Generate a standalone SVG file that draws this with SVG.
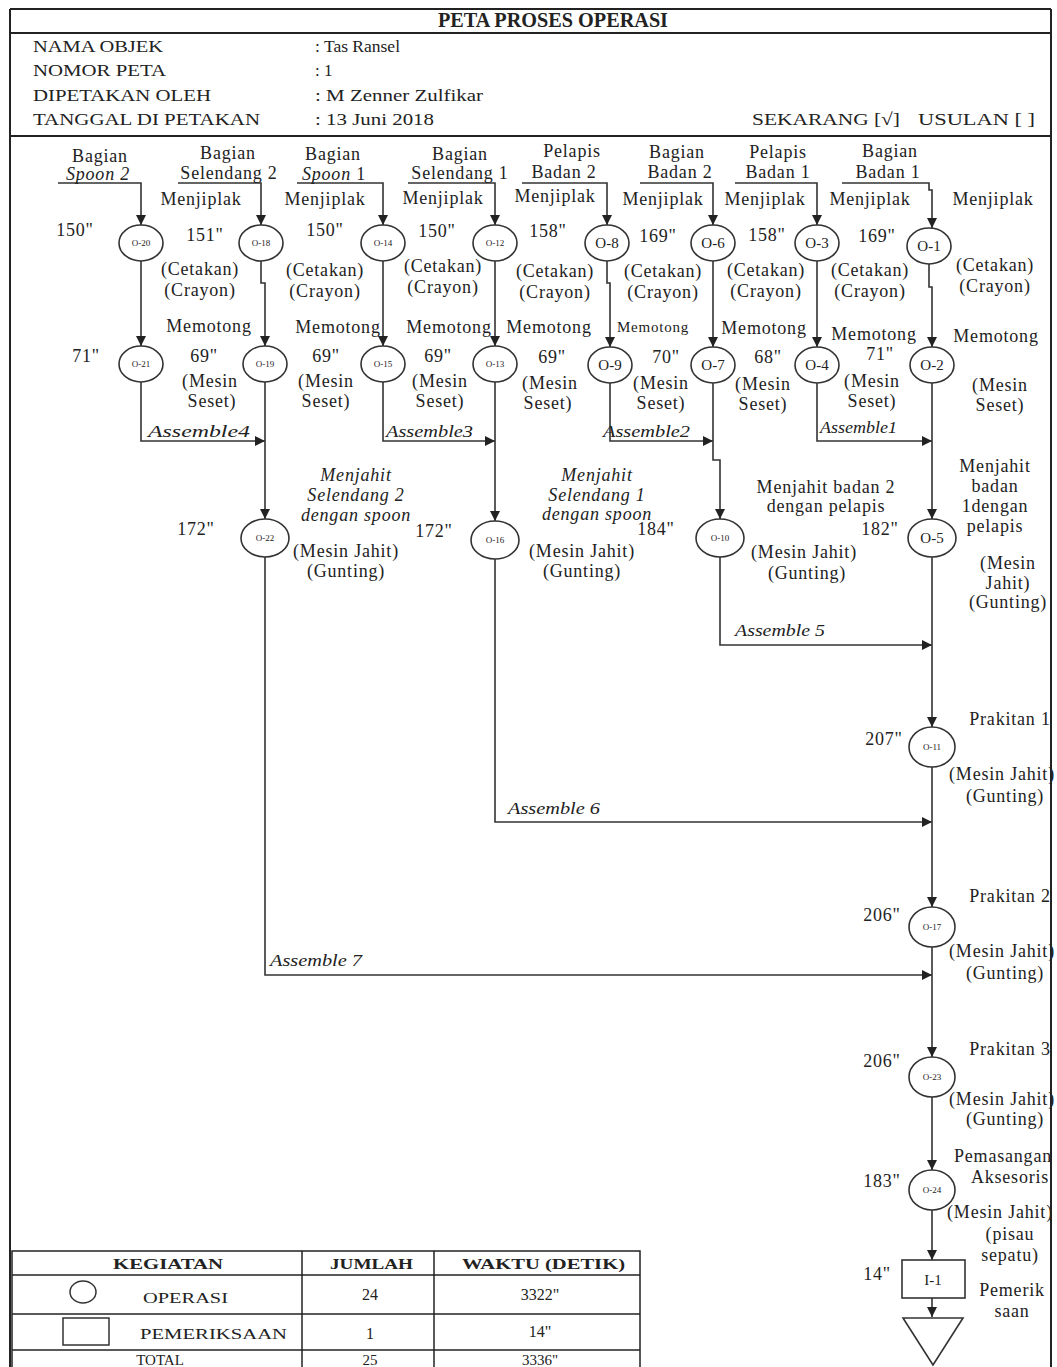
<svg xmlns="http://www.w3.org/2000/svg" width="1057" height="1367" viewBox="0 0 1057 1367">
<defs>
<marker id="ah" viewBox="0 0 10 10" refX="10" refY="5" markerWidth="10" markerHeight="10" markerUnits="userSpaceOnUse" orient="auto"><path d="M0,0 L10,5 L0,10 z" fill="#222"/></marker>
<style>
text{font-family:"Liberation Serif","Times New Roman",serif;fill:#222;font-size:18px;letter-spacing:0.8px}
.m{text-anchor:middle}
.it{font-style:italic}
.h{font-size:17px;letter-spacing:0}
.t{font-size:20px;font-weight:bold;letter-spacing:0}
.nl{font-size:9px;letter-spacing:0;text-anchor:middle}
.nb{font-size:15px;letter-spacing:0;text-anchor:middle}
.tb{font-size:15px;letter-spacing:0}
.tn{font-size:16px;letter-spacing:0;text-anchor:middle}
.as{font-size:16px;font-style:italic;letter-spacing:0}
.node ellipse,.node rect,.node polygon{fill:#fff;stroke:#333;stroke-width:1.6}
.ca{fill:none;stroke:#333;stroke-width:1.6;marker-end:url(#ah)}
.fr{fill:none;stroke:#222;stroke-width:2}
.tl{stroke:#222;stroke-width:1.5}
</style>
</defs>
<rect width="1057" height="1367" fill="#fff"/>
<g id="frame">
<line class="fr" x1="10" y1="9" x2="1051" y2="9"/>
<line class="fr" x1="10" y1="9" x2="10" y2="1367"/>
<line class="fr" x1="1051" y1="9" x2="1051" y2="1367"/>
<line class="fr" x1="10" y1="33" x2="1051" y2="33"/>
<line class="fr" x1="10" y1="136" x2="1051" y2="136" stroke-width="2.5"/>
</g>
<g id="header">
<text class="t m" x="553" y="27" textLength="230" lengthAdjust="spacingAndGlyphs">PETA PROSES OPERASI</text>
<text class="h" x="33" y="52" textLength="130" lengthAdjust="spacingAndGlyphs">NAMA OBJEK</text>
<text class="h" x="315" y="52" textLength="85" lengthAdjust="spacingAndGlyphs">: Tas Ransel</text>
<text class="h" x="33" y="76" textLength="133" lengthAdjust="spacingAndGlyphs">NOMOR PETA</text>
<text class="h" x="315" y="76">: 1</text>
<text class="h" x="33" y="101" textLength="178" lengthAdjust="spacingAndGlyphs">DIPETAKAN OLEH</text>
<text class="h" x="315" y="101" textLength="168" lengthAdjust="spacingAndGlyphs">: M Zenner Zulfikar</text>
<text class="h" x="33" y="125" textLength="227" lengthAdjust="spacingAndGlyphs">TANGGAL DI PETAKAN</text>
<text class="h" x="315" y="125" textLength="119" lengthAdjust="spacingAndGlyphs">: 13 Juni 2018</text>
<text class="h" x="752" y="125" textLength="148" lengthAdjust="spacingAndGlyphs">SEKARANG [√]</text>
<text class="h" x="918" y="125" textLength="117" lengthAdjust="spacingAndGlyphs">USULAN [   ]</text>
</g>
<g id="connectors">
<path class="ca" d="M58,183 H141 V225"/>
<path class="ca" d="M178,183 H261 V225"/>
<path class="ca" d="M297,183 H383 V225"/>
<path class="ca" d="M408,183 H495 V225"/>
<path class="ca" d="M522,183 H607 V225"/>
<path class="ca" d="M640,183 H713 V225"/>
<path class="ca" d="M735,183 H817 V225"/>
<path class="ca" d="M842,183 H929 V190 H932 V228"/>
<path class="ca" d="M141,261 V346"/>
<path class="ca" d="M261,261 V283 H265 V346"/>
<path class="ca" d="M383,261 V346"/>
<path class="ca" d="M495,261 V346"/>
<path class="ca" d="M607,261 V283 H610 V347"/>
<path class="ca" d="M713,261 V347"/>
<path class="ca" d="M817,261 V347"/>
<path class="ca" d="M929,264 V287 H932 V347"/>
<path class="ca" d="M141,382 V441 H265"/>
<path class="ca" d="M383,382 V441 H495"/>
<path class="ca" d="M610,383 V441 H713"/>
<path class="ca" d="M817,383 V441 H932"/>
<path class="ca" d="M265,382 V519"/>
<path class="ca" d="M495,382 V521"/>
<path class="ca" d="M713,383 V460 H720 V519"/>
<path class="ca" d="M932,383 V519"/>
<path class="ca" d="M720,557 V645 H932"/>
<path class="ca" d="M495,559 V822 H932"/>
<path class="ca" d="M265,557 V975 H932"/>
<path class="ca" d="M932,557 V727"/>
<path class="ca" d="M932,767 V907"/>
<path class="ca" d="M932,947 V1057"/>
<path class="ca" d="M932,1097 V1170"/>
<path class="ca" d="M932,1210 V1260"/>
<path class="ca" d="M932,1298 V1317"/>
</g>
<g id="O-20" class="node"><ellipse cx="141" cy="243" rx="22" ry="18"/><text class="nl" x="141" y="246">O-20</text></g>
<g id="O-18" class="node"><ellipse cx="261" cy="243" rx="22" ry="18"/><text class="nl" x="261" y="246">O-18</text></g>
<g id="O-14" class="node"><ellipse cx="383" cy="243" rx="22" ry="18"/><text class="nl" x="383" y="246">O-14</text></g>
<g id="O-12" class="node"><ellipse cx="495" cy="243" rx="22" ry="18"/><text class="nl" x="495" y="246">O-12</text></g>
<g id="O-8" class="node"><ellipse cx="607" cy="243" rx="22" ry="18"/><text class="nb" x="607" y="248">O-8</text></g>
<g id="O-6" class="node"><ellipse cx="713" cy="243" rx="22" ry="18"/><text class="nb" x="713" y="248">O-6</text></g>
<g id="O-3" class="node"><ellipse cx="817" cy="243" rx="22" ry="18"/><text class="nb" x="817" y="248">O-3</text></g>
<g id="O-1" class="node"><ellipse cx="929" cy="246" rx="22" ry="18"/><text class="nb" x="929" y="251">O-1</text></g>
<g id="O-21" class="node"><ellipse cx="141" cy="364" rx="22" ry="18"/><text class="nl" x="141" y="367">O-21</text></g>
<g id="O-19" class="node"><ellipse cx="265" cy="364" rx="22" ry="18"/><text class="nl" x="265" y="367">O-19</text></g>
<g id="O-15" class="node"><ellipse cx="383" cy="364" rx="22" ry="18"/><text class="nl" x="383" y="367">O-15</text></g>
<g id="O-13" class="node"><ellipse cx="495" cy="364" rx="22" ry="18"/><text class="nl" x="495" y="367">O-13</text></g>
<g id="O-9" class="node"><ellipse cx="610" cy="365" rx="22" ry="18"/><text class="nb" x="610" y="370">O-9</text></g>
<g id="O-7" class="node"><ellipse cx="713" cy="365" rx="22" ry="18"/><text class="nb" x="713" y="370">O-7</text></g>
<g id="O-4" class="node"><ellipse cx="817" cy="365" rx="22" ry="18"/><text class="nb" x="817" y="370">O-4</text></g>
<g id="O-2" class="node"><ellipse cx="932" cy="365" rx="22" ry="18"/><text class="nb" x="932" y="370">O-2</text></g>
<g id="O-22" class="node"><ellipse cx="265" cy="538" rx="24" ry="19"/><text class="nl" x="265" y="541">O-22</text></g>
<g id="O-16" class="node"><ellipse cx="495" cy="540" rx="24" ry="19"/><text class="nl" x="495" y="543">O-16</text></g>
<g id="O-10" class="node"><ellipse cx="720" cy="538" rx="24" ry="19"/><text class="nl" x="720" y="541">O-10</text></g>
<g id="O-5" class="node"><ellipse cx="932" cy="538" rx="24" ry="19"/><text class="nb" x="932" y="543">O-5</text></g>
<g id="O-11" class="node"><ellipse cx="932" cy="747" rx="23" ry="20"/><text class="nl" x="932" y="750">O-11</text></g>
<g id="O-17" class="node"><ellipse cx="932" cy="927" rx="23" ry="20"/><text class="nl" x="932" y="930">O-17</text></g>
<g id="O-23" class="node"><ellipse cx="932" cy="1077" rx="23" ry="20"/><text class="nl" x="932" y="1080">O-23</text></g>
<g id="O-24" class="node"><ellipse cx="932" cy="1190" rx="23" ry="20"/><text class="nl" x="932" y="1193">O-24</text></g>
<g id="I-1" class="node"><rect x="902" y="1260" width="63" height="38"/><text class="nb" x="933" y="1285">I-1</text></g>
<g id="storage" class="node"><polygon points="903,1318 963,1318 933,1365"/></g>
<g id="labels">
<text class="m" x="100" y="162">Bagian</text>
<text class="m it" x="98" y="180">Spoon 2</text>
<text class="m" x="228" y="159">Bagian</text>
<text class="m" x="229" y="179">Selendang 2</text>
<text class="m" x="333" y="160">Bagian</text>
<text class="m" x="334" y="180"><tspan class="it">Spoon</tspan> 1</text>
<text class="m" x="460" y="160">Bagian</text>
<text class="m" x="460" y="179">Selendang 1</text>
<text class="m" x="572" y="157">Pelapis</text>
<text class="m" x="564" y="178">Badan 2</text>
<text class="m" x="677" y="158">Bagian</text>
<text class="m" x="680" y="178">Badan 2</text>
<text class="m" x="778" y="158">Pelapis</text>
<text class="m" x="778" y="178">Badan 1</text>
<text class="m" x="890" y="157">Bagian</text>
<text class="m" x="888" y="178">Badan 1</text>

<text class="m" x="201" y="205">Menjiplak</text>
<text class="m" x="325" y="205">Menjiplak</text>
<text class="m" x="443" y="204">Menjiplak</text>
<text class="m" x="555" y="202">Menjiplak</text>
<text class="m" x="663" y="205">Menjiplak</text>
<text class="m" x="765" y="205">Menjiplak</text>
<text class="m" x="870" y="205">Menjiplak</text>
<text class="m" x="993" y="205">Menjiplak</text>

<text class="m" x="75" y="236">150"</text>
<text class="m" x="205" y="241">151"</text>
<text class="m" x="325" y="236">150"</text>
<text class="m" x="437" y="237">150"</text>
<text class="m" x="548" y="237">158"</text>
<text class="m" x="658" y="242">169"</text>
<text class="m" x="767" y="241">158"</text>
<text class="m" x="877" y="242">169"</text>

<text class="m" x="200" y="275">(Cetakan)</text><text class="m" x="200" y="296">(Crayon)</text>
<text class="m" x="325" y="276">(Cetakan)</text><text class="m" x="325" y="297">(Crayon)</text>
<text class="m" x="443" y="272">(Cetakan)</text><text class="m" x="443" y="293">(Crayon)</text>
<text class="m" x="555" y="277">(Cetakan)</text><text class="m" x="555" y="298">(Crayon)</text>
<text class="m" x="663" y="277">(Cetakan)</text><text class="m" x="663" y="298">(Crayon)</text>
<text class="m" x="766" y="276">(Cetakan)</text><text class="m" x="766" y="297">(Crayon)</text>
<text class="m" x="870" y="276">(Cetakan)</text><text class="m" x="870" y="297">(Crayon)</text>
<text class="m" x="995" y="271">(Cetakan)</text><text class="m" x="995" y="292">(Crayon)</text>

<text class="m" x="209" y="332">Memotong</text>
<text class="m" x="338" y="333">Memotong</text>
<text class="m" x="449" y="333">Memotong</text>
<text class="m" x="549" y="333">Memotong</text>
<text class="m" x="653" y="332" style="font-size:15px">Memotong</text>
<text class="m" x="764" y="334">Memotong</text>
<text class="m" x="874" y="340">Memotong</text>
<text class="m" x="996" y="342">Memotong</text>

<text class="m" x="86" y="362">71"</text>
<text class="m" x="204" y="362">69"</text>
<text class="m" x="326" y="362">69"</text>
<text class="m" x="438" y="362">69"</text>
<text class="m" x="552" y="363">69"</text>
<text class="m" x="666" y="363">70"</text>
<text class="m" x="768" y="363">68"</text>
<text class="m" x="880" y="360">71"</text>

<text class="m" x="210" y="387">(Mesin</text><text class="m" x="212" y="407">Seset)</text>
<text class="m" x="326" y="387">(Mesin</text><text class="m" x="326" y="407">Seset)</text>
<text class="m" x="440" y="387">(Mesin</text><text class="m" x="440" y="407">Seset)</text>
<text class="m" x="550" y="389">(Mesin</text><text class="m" x="548" y="409">Seset)</text>
<text class="m" x="661" y="389">(Mesin</text><text class="m" x="661" y="409">Seset)</text>
<text class="m" x="763" y="390">(Mesin</text><text class="m" x="763" y="410">Seset)</text>
<text class="m" x="872" y="387">(Mesin</text><text class="m" x="872" y="407">Seset)</text>
<text class="m" x="1000" y="391">(Mesin</text><text class="m" x="1000" y="411">Seset)</text>

<text class="as" x="148" y="437" textLength="102" lengthAdjust="spacingAndGlyphs">Assemble4</text>
<text class="as" x="386" y="437" textLength="87" lengthAdjust="spacingAndGlyphs">Assemble3</text>
<text class="as" x="603" y="437" textLength="87" lengthAdjust="spacingAndGlyphs">Assemble2</text>
<text class="as" x="820" y="433" textLength="77" lengthAdjust="spacingAndGlyphs">Assemble1</text>

<text class="m it" x="356" y="481">Menjahit</text>
<text class="m it" x="356" y="501">Selendang 2</text>
<text class="m it" x="356" y="521">dengan spoon</text>
<text class="m" x="196" y="535">172"</text>
<text class="m" x="346" y="557">(Mesin Jahit)</text>
<text class="m" x="346" y="577">(Gunting)</text>

<text class="m it" x="597" y="481">Menjahit</text>
<text class="m it" x="597" y="501">Selendang 1</text>
<text class="m it" x="597" y="520">dengan spoon</text>
<text class="m" x="434" y="537">172"</text>
<text class="m" x="656" y="535">184"</text>
<text class="m" x="582" y="557">(Mesin Jahit)</text>
<text class="m" x="582" y="577">(Gunting)</text>

<text class="m" x="826" y="493">Menjahit badan 2</text>
<text class="m" x="826" y="512">dengan pelapis</text>
<text class="m" x="804" y="558">(Mesin Jahit)</text>
<text class="m" x="807" y="579">(Gunting)</text>

<text class="m" x="880" y="535">182"</text>
<text class="m" x="995" y="472">Menjahit</text>
<text class="m" x="995" y="492">badan</text>
<text class="m" x="995" y="512">1dengan</text>
<text class="m" x="995" y="532">pelapis</text>
<text class="m" x="1008" y="569">(Mesin</text>
<text class="m" x="1008" y="589">Jahit)</text>
<text class="m" x="1008" y="608">(Gunting)</text>

<text class="as" x="735" y="636" textLength="90" lengthAdjust="spacingAndGlyphs">Assemble 5</text>
<text class="as" x="508" y="814" textLength="92" lengthAdjust="spacingAndGlyphs">Assemble 6</text>
<text class="as" x="270" y="966" textLength="92" lengthAdjust="spacingAndGlyphs">Assemble 7</text>

<text class="m" x="884" y="745">207"</text>
<text class="m" x="1010" y="725">Prakitan 1</text>
<text class="m" x="1002" y="780">(Mesin Jahit)</text>
<text class="m" x="1005" y="802">(Gunting)</text>

<text class="m" x="882" y="921">206"</text>
<text class="m" x="1010" y="902">Prakitan 2</text>
<text class="m" x="1002" y="957">(Mesin Jahit)</text>
<text class="m" x="1005" y="979">(Gunting)</text>

<text class="m" x="882" y="1067">206"</text>
<text class="m" x="1010" y="1055">Prakitan 3</text>
<text class="m" x="1002" y="1105">(Mesin Jahit)</text>
<text class="m" x="1005" y="1125">(Gunting)</text>

<text class="m" x="882" y="1187">183"</text>
<text class="m" x="1003" y="1162">Pemasangan</text>
<text class="m" x="1010" y="1183">Aksesoris</text>
<text class="m" x="1000" y="1218">(Mesin Jahit)</text>
<text class="m" x="1010" y="1240">(pisau</text>
<text class="m" x="1010" y="1261">sepatu)</text>

<text class="m" x="877" y="1280">14"</text>
<text class="m" x="1012" y="1296">Pemerik</text>
<text class="m" x="1012" y="1317">saan</text>
</g>
<g id="table">
<rect x="12" y="1251" width="628" height="130" fill="#fff" stroke="#222" stroke-width="1.5"/>
<line class="tl" x1="12" y1="1275" x2="640" y2="1275"/>
<line class="tl" x1="12" y1="1314" x2="640" y2="1314"/>
<line class="tl" x1="12" y1="1350" x2="640" y2="1350"/>
<line class="tl" x1="302" y1="1251" x2="302" y2="1367"/>
<line class="tl" x1="434" y1="1251" x2="434" y2="1367"/>
<text class="tb" x="113" y="1269" style="font-weight:bold" textLength="110" lengthAdjust="spacingAndGlyphs">KEGIATAN</text>
<text class="tb" x="330" y="1269" style="font-weight:bold" textLength="83" lengthAdjust="spacingAndGlyphs">JUMLAH</text>
<text class="tb" x="462" y="1269" style="font-weight:bold" textLength="163" lengthAdjust="spacingAndGlyphs">WAKTU (DETIK)</text>
<ellipse cx="83" cy="1292" rx="13" ry="11" fill="#fff" stroke="#333" stroke-width="1.5"/>
<text class="tb" x="143" y="1303" textLength="85" lengthAdjust="spacingAndGlyphs">OPERASI</text>
<text class="tn" x="370" y="1300">24</text>
<text class="tn" x="540" y="1300">3322"</text>
<rect x="63" y="1318" width="46" height="27" fill="#fff" stroke="#333" stroke-width="1.5"/>
<text class="tb" x="140" y="1339" textLength="147" lengthAdjust="spacingAndGlyphs">PEMERIKSAAN</text>
<text class="tn" x="370" y="1339">1</text>
<text class="tn" x="540" y="1337">14"</text>
<text class="tn" x="160" y="1365" style="font-size:15px">TOTAL</text>
<text class="tn" x="370" y="1365" style="font-size:15px">25</text>
<text class="tn" x="540" y="1365" style="font-size:15px">3336"</text>
</g>
</svg>
